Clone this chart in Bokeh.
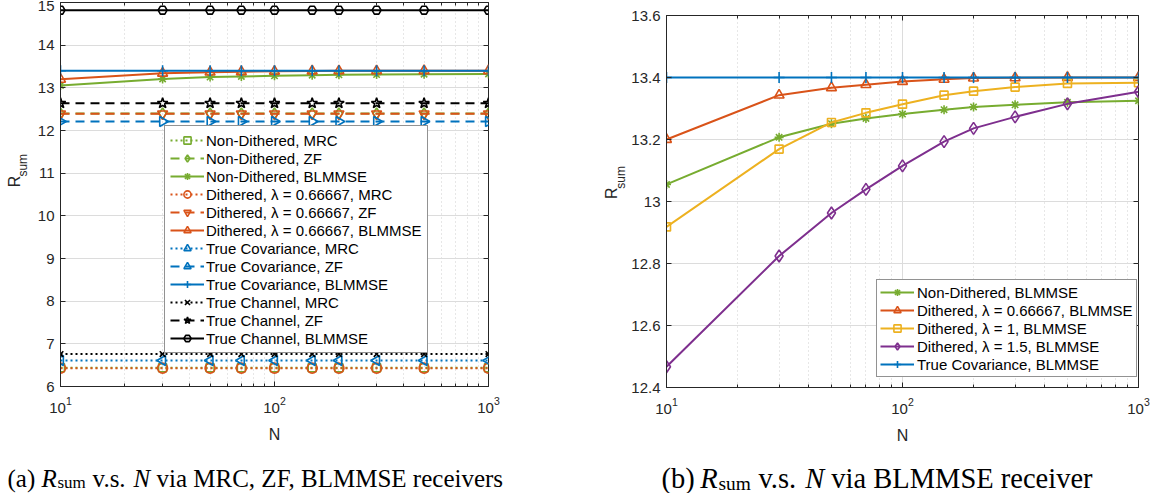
import math
from bokeh.plotting import figure
from bokeh.models import (Range1d, LogAxis, LinearAxis, Legend, LegendItem, Label,
                          FixedTicker, NumeralTickFormatter, BasicTickFormatter)
from bokeh.layouts import row, column
from bokeh.embed import file_html
from bokeh.resources import INLINE

# ---------------- data ----------------
N = [10, 30, 50, 70, 100, 150, 200, 300, 500, 1000]

# panel (a)
nd_mrc = [6.44, 6.44, 6.44, 6.44, 6.44, 6.44, 6.44, 6.44, 6.44, 6.44]
nd_zf = [12.40, 12.40, 12.40, 12.40, 12.40, 12.40, 12.40, 12.40, 12.40, 12.40]
nd_bl = [13.055, 13.207, 13.251, 13.268, 13.282, 13.296, 13.305, 13.312, 13.320, 13.325]
d_mrc = [6.43, 6.43, 6.43, 6.43, 6.43, 6.43, 6.43, 6.43, 6.43, 6.43]
d_zf = [12.39, 12.39, 12.39, 12.39, 12.39, 12.39, 12.39, 12.39, 12.39, 12.39]
d_bl = [13.200, 13.343, 13.367, 13.377, 13.387, 13.394, 13.398, 13.399, 13.400, 13.400]
tc_mrc = [6.61, 6.61, 6.61, 6.61, 6.61, 6.61, 6.61, 6.61, 6.61, 6.61]
tc_zf = [12.21, 12.21, 12.21, 12.21, 12.21, 12.21, 12.21, 12.21, 12.21, 12.21]
tc_bl = [13.40, 13.40, 13.40, 13.40, 13.40, 13.40, 13.40, 13.40, 13.40, 13.40]
ch_mrc = [6.76, 6.76, 6.76, 6.76, 6.76, 6.76, 6.76, 6.76, 6.76, 6.76]
ch_zf = [12.64, 12.64, 12.64, 12.64, 12.64, 12.64, 12.64, 12.64, 12.64, 12.64]
ch_bl = [14.82, 14.82, 14.82, 14.82, 14.82, 14.82, 14.82, 14.82, 14.82, 14.82]

# panel (b)
d1_bl = [12.918, 13.169, 13.255, 13.286, 13.314, 13.343, 13.356, 13.369, 13.381, 13.383]
d15_bl = [12.467, 12.824, 12.963, 13.039, 13.115, 13.193, 13.236, 13.273, 13.315, 13.354]

labels_a = ["Non-Dithered, MRC", "Non-Dithered, ZF", "Non-Dithered, BLMMSE",
            "Dithered, \u03bb = 0.66667, MRC", "Dithered, \u03bb = 0.66667, ZF",
            "Dithered, \u03bb = 0.66667, BLMMSE",
            "True Covariance, MRC", "True Covariance, ZF", "True Covariance, BLMMSE",
            "True Channel, MRC", "True Channel, ZF", "True Channel, BLMMSE"]
labels_b = ["Non-Dithered, BLMMSE", "Dithered, \u03bb = 0.66667, BLMMSE",
            "Dithered, \u03bb = 1, BLMMSE", "Dithered, \u03bb = 1.5, BLMMSE",
            "True Covariance, BLMMSE"]
yticks_a = [6, 7, 8, 9, 10, 11, 12, 13, 14, 15]
yticks_b = [12.4, 12.6, 12.8, 13.0, 13.2, 13.4, 13.6]
xticks = [10, 100, 1000]
xminor = [20, 30, 40, 50, 60, 70, 80, 90, 200, 300, 400, 500, 600, 700, 800, 900]

# ---------------- styles ----------------
BLUE, ORANGE, YELLOW, PURPLE, GREEN = "#0072BD", "#D95319", "#EDB120", "#7E2F8E", "#77AC30"
AX = "#262626"
SANS = "Liberation Sans"
SERIF = "Liberation Serif"
DOT, DASH, SOLID = "2 3", "9 6", "solid"
H_PLOT, H_CAP = 446, 47


def base_fig(width, yr, yticks, mb_left, mb_right, mb_top, mb_bottom, yfmt=None):
    p = figure(width=width, height=H_PLOT, x_axis_type="log",
               x_range=Range1d(10, 1000), y_range=Range1d(*yr),
               output_backend="svg", toolbar_location=None,
               min_border_left=mb_left, min_border_right=mb_right,
               min_border_top=mb_top, min_border_bottom=mb_bottom)
    p.outline_line_color = AX
    p.outline_line_width = 1
    p.background_fill_color = "white"
    xt = FixedTicker(ticks=xticks, minor_ticks=xminor)
    yt = FixedTicker(ticks=yticks, minor_ticks=[])
    p.xaxis.ticker = xt
    p.yaxis.ticker = yt
    if yfmt is not None:
        p.yaxis.formatter = yfmt
    for ax in (p.xaxis[0], p.yaxis[0]):
        ax.axis_line_color = AX
        ax.major_tick_line_color = AX
        ax.minor_tick_line_color = AX
        ax.major_tick_in = 5
        ax.major_tick_out = 0
        ax.minor_tick_in = 3
        ax.minor_tick_out = 0
        ax.major_label_text_font = SANS
        ax.major_label_text_font_size = "15px"
        ax.major_label_text_color = AX
    p.xaxis.major_label_standoff = 10
    p.yaxis.major_label_standoff = 6
    p.xaxis.axis_label = "N"
    p.xaxis.axis_label_text_font = SANS
    p.xaxis.axis_label_text_font_size = "16px"
    p.xaxis.axis_label_text_font_style = "normal"
    p.xaxis.axis_label_text_color = AX
    p.xaxis.axis_label_standoff = 10
    # box ticks on top / right (labels hidden)
    top = LogAxis(ticker=xt, formatter=BasicTickFormatter(),
                  major_label_text_font_size="2px", major_label_text_color=None,
                  major_label_standoff=0,
                  axis_line_color=None, major_tick_line_color=AX, minor_tick_line_color=AX,
                  major_tick_in=5, major_tick_out=0, minor_tick_in=3, minor_tick_out=0)
    right = LinearAxis(ticker=yt, major_label_text_font_size="2px", major_label_text_color=None,
                       major_label_standoff=0,
                       axis_line_color=None, major_tick_line_color=AX,
                       major_tick_in=5, major_tick_out=0, minor_tick_out=0)
    p.add_layout(top, "above")
    p.add_layout(right, "right")
    p.xgrid.ticker = xt
    p.ygrid.ticker = yt
    p.xgrid.grid_line_color = "#dcdcdc"
    p.ygrid.grid_line_color = "#dcdcdc"
    p.xgrid.minor_grid_line_color = "#cfcfcf"
    p.xgrid.minor_grid_line_dash = "1 3"
    return p


def blank_fig(width, height):
    f = figure(width=width, height=height, x_range=Range1d(0, width), y_range=Range1d(0, height),
               output_backend="svg", toolbar_location=None,
               x_axis_location=None, y_axis_location=None,
               min_border_left=0, min_border_right=0, min_border_top=0, min_border_bottom=0)
    f.outline_line_color = None
    f.grid.visible = False
    f.background_fill_color = "white"
    return f


def series(p, y, color, dash, marker, size, angle=0.0):
    r1 = p.line(N, y, line_color=color, line_width=2, line_dash=dash)
    r2 = p.scatter(N, y, marker=marker, size=size, angle=angle, line_color=color,
                   fill_color=None, line_width=1.6)
    return [r1, r2]


def ylab_fig(width, rx, ry, sdx, sdy):
    f = blank_fig(width, H_PLOT)
    f.add_layout(Label(x=rx, y=ry, text="R", angle=math.pi / 2,
                       text_align="center", text_baseline="middle",
                       text_font=SANS, text_font_size="16px", text_color=AX))
    f.add_layout(Label(x=rx + sdx, y=ry + sdy, text="sum", angle=math.pi / 2,
                       text_align="center", text_baseline="middle",
                       text_font=SANS, text_font_size="12px", text_color=AX))
    return f


def cap_fig(width, x0, fs, tag, tail):
    f = blank_fig(width, H_CAP)
    k = fs / 25.0
    parts = [(tag, 0, "normal", fs, 0), ("R", 34 * k, "italic", fs, 0),
             ("sum", 50 * k, "normal", 0.68 * fs, -4 * k),
             ("v.s.", 85 * k, "normal", fs, 0), ("N", 126 * k, "italic", fs, 0),
             (tail, 149 * k, "normal", fs, 0)]
    for txt, dx, st, size, dy in parts:
        f.add_layout(Label(x=x0 + dx, y=15 + dy, text=txt,
                           text_align="left", text_baseline="alphabetic",
                           text_font=SERIF, text_font_size=f"{size:.1f}px",
                           text_font_style=st, text_color="black"))
    return f


def legend(p, items, loc, gw, pad, std):
    lg = Legend(items=items, location=loc, label_text_font=SANS, label_text_font_size="15px",
                label_text_color="black", glyph_width=gw, glyph_height=18, label_height=18,
                spacing=0, padding=pad, margin=0, label_standoff=std,
                border_line_color=AX, border_line_width=1, background_fill_color="white",
                background_fill_alpha=1)
    p.add_layout(lg)


# ---------------- panel (a) ----------------
pa = base_fig(570, (6, 15), yticks_a, 32, 110, 2, H_PLOT - 386)
specs_a = [
    (nd_mrc, GREEN, DOT, "square", 8, 0.0),
    (nd_zf, GREEN, DASH, "diamond", 11, 0.0),
    (nd_bl, GREEN, SOLID, "asterisk", 9, 0.0),
    (d_mrc, ORANGE, DOT, "circle", 10, 0.0),
    (d_zf, ORANGE, DASH, "inverted_triangle", 10, 0.0),
    (d_bl, ORANGE, SOLID, "triangle", 10, 0.0),
    (tc_mrc, BLUE, DOT, "triangle", 10, math.pi / 2),
    (tc_zf, BLUE, DASH, "triangle", 10, -math.pi / 2),
    (tc_bl, BLUE, SOLID, "cross", 11, 0.0),
    (ch_mrc, "black", DOT, "x", 8, 0.0),
    (ch_zf, "black", DASH, "star", 11, 0.0),
    (ch_bl, "black", SOLID, "hex", 9, 0.0),
]
items_a = []
for lab, (y, c, d, m, s, a) in zip(labels_a, specs_a):
    items_a.append(LegendItem(label=lab, renderers=series(pa, y, c, d, m, s, a)))
legend(pa, items_a, (104, 33), 34, 5, 2)
yl_a = ylab_fig(28, 14, H_PLOT - 208, 8, 19)
cap_a = cap_fig(598, 7, 25, "(a)", "via MRC, ZF, BLMMSE receivers")

# ---------------- panel (b) ----------------
pb = base_fig(523, (12.4, 13.6), yticks_b, 37, 13, 15, H_PLOT - 388,
              yfmt=NumeralTickFormatter(format="0.[0]"))
specs_b = [
    (nd_bl, GREEN, SOLID, "asterisk", 9, 0.0),
    (d_bl, ORANGE, SOLID, "triangle", 10, 0.0),
    (d1_bl, YELLOW, SOLID, "square", 8, 0.0),
    (d15_bl, PURPLE, SOLID, "diamond", 12, 0.0),
    (tc_bl, BLUE, SOLID, "cross", 11, 0.0),
]
items_b = []
for lab, (y, c, d, m, s, a) in zip(labels_b, specs_b):
    items_b.append(LegendItem(label=lab, renderers=series(pb, y, c, d, m, s, a)))
legend(pb, items_b, (210, 10), 34, 3, 3)
yl_b = ylab_fig(30, 13, H_PLOT - 213, 9, 19)
cap_b = cap_fig(553, 63, 28.5, "(b)", "via BLMMSE receiver")

layout = row(column(row(yl_a, pa), cap_a), column(row(yl_b, pb), cap_b))
open("out.html", "w").write(file_html(layout, INLINE))
